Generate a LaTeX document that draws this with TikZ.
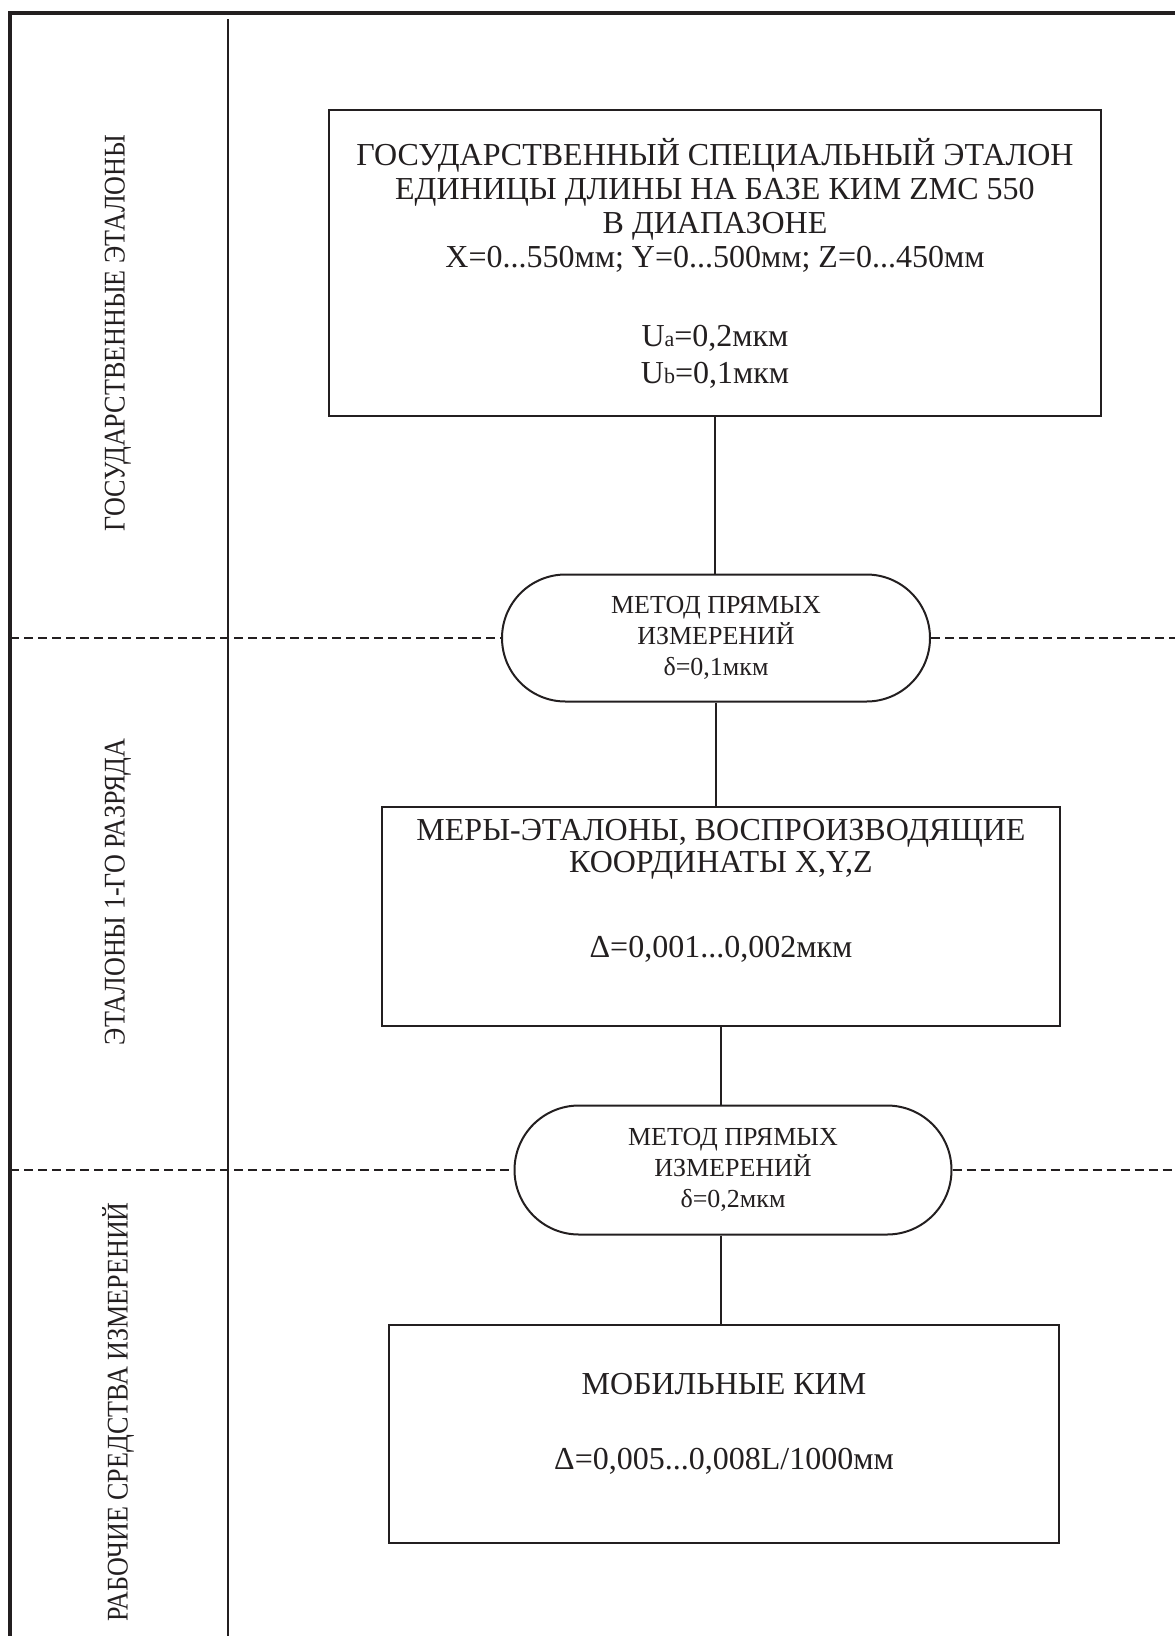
\documentclass[tikz,border=0pt]{standalone}
\usepackage{fontspec}
\setmainfont{Liberation Serif}
\newfontfamily\narrowserif[FakeStretch=0.87]{Liberation Serif}
\usetikzlibrary{shapes.misc}
\definecolor{ink}{RGB}{35,31,32}
\tikzset{
  stdbox/.style={draw=ink, line width=2pt, rectangle, align=center, text=ink, font=\fontsize{32}{32}\selectfont},
  method/.style={draw=ink, line width=2pt, rounded rectangle, align=center, text=ink, inner sep=0pt, font=\fontsize{26}{31}\selectfont},
  levelname/.style={rotate=90, text=ink, font=\narrowserif\fontsize{30}{30}\selectfont},
  link/.style={draw=ink, line width=2pt},
  levelcut/.style={draw=ink, line width=1.3pt, dash pattern=on 9pt off 5pt}
}
\begin{document}
\begin{tikzpicture}[x=1pt, y=-1pt]
    \useasboundingbox (0,0) rectangle (1175,1636);
    \draw[ink, line width=4pt] (10,1636) -- (10,13) -- (1175,13);
    \draw[ink, line width=2.5pt] (228,19) -- (228,1636);

    \node (level_state) [levelname] at (118,333) {ГОСУДАРСТВЕННЫЕ ЭТАЛОНЫ};
    \node (level_first) [levelname] at (118,892) {ЭТАЛОНЫ 1-ГО РАЗРЯДА};
    \node (level_working) [levelname] at (118,1412) {РАБОЧИЕ СРЕДСТВА ИЗМЕРЕНИЙ};

    \node (state_standard) [stdbox, minimum width=772pt, minimum height=306pt, font=\fontsize{32}{34}\selectfont] at (715,263) {ГОСУДАРСТВЕННЫЙ СПЕЦИАЛЬНЫЙ ЭТАЛОН\\ЕДИНИЦЫ ДЛИНЫ НА БАЗЕ КИМ ZMC 550\\В ДИАПАЗОНЕ\\X=0...550мм; Y=0...500мм; Z=0...450мм\\[45pt]U{\fontsize{22}{22}\selectfont a}=0,2мкм\\[3pt]U{\fontsize{22}{22}\selectfont b}=0,1мкм};
    \node (direct_method_a) [method, minimum width=428pt, minimum height=127pt] at (716,638) {МЕТОД ПРЯМЫХ\\ИЗМЕРЕНИЙ\\δ=0,1мкм};
    \node (reference_measures) [stdbox, minimum width=678pt, minimum height=219pt] at (721,916) {МЕРЫ-ЭТАЛОНЫ, ВОСПРОИЗВОДЯЩИЕ\\КООРДИНАТЫ X,Y,Z\\[53pt]Δ=0,001...0,002мкм\\[24pt]\mbox{}};
    \node (direct_method_b) [method, minimum width=437pt, minimum height=129pt] at (733,1170) {МЕТОД ПРЯМЫХ\\ИЗМЕРЕНИЙ\\δ=0,2мкм};
    \node (mobile_cmm) [stdbox, minimum width=670pt, minimum height=218pt] at (724,1434) {МОБИЛЬНЫЕ КИМ\\[43pt]Δ=0,005...0,008L/1000мм\\[-7pt]\mbox{}};

    \coordinate (cut_a_left) at (10,638);
    \coordinate (cut_a_right) at (1175,638);
    \coordinate (cut_b_left) at (10,1170);
    \coordinate (cut_b_right) at (1175,1170);
    \draw[levelcut] (cut_a_left) -- (direct_method_a.west);
    \draw[levelcut] (direct_method_a.east) -- (cut_a_right);
    \draw[levelcut] (cut_b_left) -- (direct_method_b.west);
    \draw[levelcut] (direct_method_b.east) -- (cut_b_right);

    \draw[link] (state_standard.south) -- (state_standard.south |- direct_method_a.north);
    \draw[link] (direct_method_a.south) -- (direct_method_a.south |- reference_measures.north);
    \draw[link] (reference_measures.south) -- (reference_measures.south |- direct_method_b.north);
    \draw[link] (reference_measures.south |- direct_method_b.south) -- (reference_measures.south |- mobile_cmm.north);
\end{tikzpicture}
\end{document}
